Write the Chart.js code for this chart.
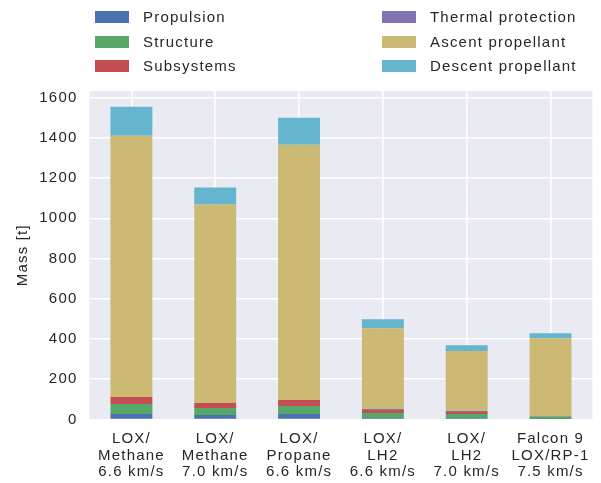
<!DOCTYPE html>
<html>
<head>
<meta charset="utf-8">
<script src="https://cdn.jsdelivr.net/npm/chart.js@4/dist/chart.umd.min.js"></script>
<style>
  body { margin: 0; background: #ffffff; }
  #wrap { position: relative; width: 601px; height: 483px; }
  #legend { position: absolute; left: 0; top: 0; width: 601px; height: 85px; font-family: "Liberation Sans", Arial, sans-serif; font-size: 15px; letter-spacing: 1.2px; color: #262626; }
  .item { position: absolute; height: 14px; }
  .sw { position: absolute; width: 34px; height: 12px; top: 0; }
  .lb { position: absolute; white-space: nowrap; top: -3px; line-height: 18px; }
</style>
</head>
<body>
<div id="wrap">
  <canvas id="c" width="601" height="483"></canvas>
  <div id="legend"></div>
</div>
<script>
const categories = [
  ["LOX/", "Methane", "6.6 km/s"],
  ["LOX/", "Methane", "7.0 km/s"],
  ["LOX/", "Propane", "6.6 km/s"],
  ["LOX/", "LH2", "6.6 km/s"],
  ["LOX/", "LH2", "7.0 km/s"],
  ["Falcon 9", "LOX/RP-1", "7.5 km/s"]
];
const seriesNames = ["Propulsion", "Structure", "Subsystems", "Thermal protection", "Ascent propellant", "Descent propellant"];
const propulsion = [27, 22, 27, 7, 7, 3];
const structure = [50, 35, 40, 25, 20, 12];
const subsystems = [35, 25, 30, 15, 10, 2];
const thermal = [0, 0, 0, 5, 5, 0];
const ascent = [1299, 987, 1269, 402, 298, 387];
const descent = [144, 84, 134, 44, 29, 25];
const yTicks = [0, 200, 400, 600, 800, 1000, 1200, 1400, 1600];

const colors = ["#4C72B0", "#55A868", "#C44E52", "#8172B2", "#CCB974", "#64B5CD"];
const seriesValues = [propulsion, structure, subsystems, thermal, ascent, descent];

const FONT = { family: "'Liberation Sans', Arial, sans-serif", size: 15, lineHeight: 1.11 };
const TXT = "#262626";

const spacingPlugin = {
  id: 'spacing',
  beforeLayout(chart) { chart.ctx.letterSpacing = '1.2px'; },
  beforeDraw(chart) {
    chart.ctx.letterSpacing = '1.2px';
    const a = chart.chartArea;
    chart.ctx.save();
    chart.ctx.fillStyle = '#EAEAF2';
    chart.ctx.fillRect(a.left, a.top, a.right - a.left, a.bottom - a.top);
    chart.ctx.restore();
  }
};

const datasets = seriesNames.map((n, i) => ({
  label: n,
  data: seriesValues[i],
  backgroundColor: colors[i],
  borderWidth: 0,
  barPercentage: 0.5,
  categoryPercentage: 1.0
}));

new Chart(document.getElementById('c'), {
  type: 'bar',
  data: { labels: categories, datasets },
  plugins: [spacingPlugin],
  options: {
    responsive: false,
    animation: false,
    layout: { padding: { top: 91, right: 6, left: 13, bottom: 0 } },
    plugins: { legend: { display: false }, tooltip: { enabled: false } },
    scales: {
      x: {
        stacked: true,
        offset: true,
        grid: { color: '#ffffff', lineWidth: 1.6, offset: false, drawTicks: false },
        border: { display: false },
        ticks: { color: TXT, font: FONT, padding: 11, maxRotation: 0, autoSkip: false },
        afterFit(s) { s.height = 63.5; }
      },
      y: {
        stacked: true,
        min: 0,
        max: 1633,
        grid: { color: '#ffffff', lineWidth: 1.6, drawTicks: false },
        border: { display: false },
        afterBuildTicks(s) { s.ticks = yTicks.map(v => ({ value: v })); },
        ticks: { color: TXT, font: FONT, padding: 12, stepSize: 200, includeBounds: false,
                 callback: (v) => String(v) },
        title: { display: true, text: 'Mass [t]', color: TXT, font: FONT, padding: { top: 2, bottom: 4 } },
        afterFit(s) { s.width = 76.5; }
      }
    }
  }
});

// legend (two columns, three rows, column-major like the reference)
const leg = document.getElementById('legend');
seriesNames.forEach((n, i) => {
  const col = Math.floor(i / 3), row = i % 3;
  const item = document.createElement('div');
  item.className = 'item';
  item.style.left = (col === 0 ? 95 : 382) + 'px';
  item.style.top = (11 + row * 24.5) + 'px';
  const sw = document.createElement('div');
  sw.className = 'sw';
  sw.style.background = colors[i];
  const lb = document.createElement('div');
  lb.className = 'lb';
  lb.style.left = '48px';
  lb.textContent = n;
  item.appendChild(sw); item.appendChild(lb);
  leg.appendChild(item);
});
</script>
</body>
</html>
